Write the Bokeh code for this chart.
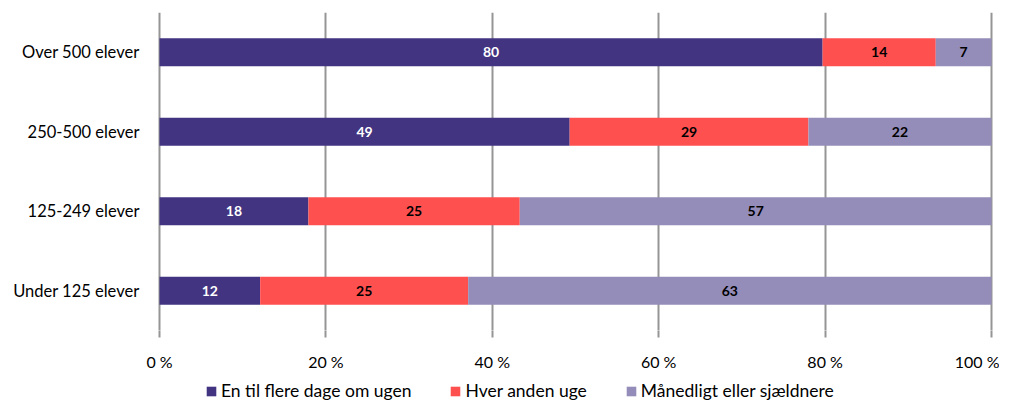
from bokeh.plotting import figure
from bokeh.models import Range1d, FixedTicker, Legend, LegendItem, ColumnDataSource
from bokeh.layouts import column
from bokeh.core.properties import value
from bokeh.embed import file_html
from bokeh.resources import INLINE

categories = ["Under 125 elever", "125-249 elever", "250-500 elever", "Over 500 elever"]
series_names = ["En til flere dage om ugen", "Hver anden uge", "Månedligt eller sjældnere"]
s1 = [12.1, 17.9, 49.3, 79.7]
s2 = [25.0, 25.4, 28.7, 13.6]
s3 = [62.9, 56.7, 22.0, 6.7]
labels1 = ["12", "18", "49", "80"]
labels2 = ["25", "25", "29", "14"]
labels3 = ["63", "57", "22", "7"]
tick_values = [0, 20, 40, 60, 80, 100]
tick_labels = ["0 %", "20 %", "40 %", "60 %", "80 %", "100 %"]

colors = ["#423480", "#FF5050", "#948CB9"]
label_colors = ["#FFFFFF", "#000000", "#000000"]
FONT = "Lato"

p = figure(frame_width=836, frame_height=318, y_range=categories, x_range=Range1d(-0.24, 100.24),
           output_backend="svg", toolbar_location=None,
           min_border_left=157, min_border_right=6, min_border_top=12, min_border_bottom=0)
p.outline_line_color = None

src = ColumnDataSource(dict(cat=categories, a=s1, b=s2, c=s3))
rends = p.hbar_stack(["a", "b", "c"], y="cat", height=0.35, color=colors, source=src,
                     line_color=None)

# value labels
stacks = [s1, s2, s3]
texts = [labels1, labels2, labels3]
left = [0.0] * len(categories)
for i in range(3):
    centers = [l + v / 2 for l, v in zip(left, stacks[i])]
    lsrc = ColumnDataSource(dict(x=centers, y=categories, t=texts[i]))
    p.text(x="x", y="y", text="t", source=lsrc, text_align="center", text_baseline="middle",
           text_font=value(FONT), text_font_style="bold", text_font_size="14px",
           text_color=label_colors[i])
    left = [l + v for l, v in zip(left, stacks[i])]

# x axis
p.xaxis.ticker = FixedTicker(ticks=tick_values)
p.xaxis.major_label_overrides = {v: t for v, t in zip(tick_values, tick_labels)}
p.xaxis.axis_line_color = None
p.xaxis.major_tick_in = 0
p.xaxis.major_tick_out = 7
p.xaxis.major_tick_line_color = "#959595"
p.xaxis.major_tick_line_width = 2
p.xaxis.minor_tick_line_color = None
p.xaxis.major_label_standoff = 14
p.xaxis.major_label_text_font = FONT
p.xaxis.major_label_text_font_size = "16px"
p.xaxis.major_label_text_color = "#000000"

p.xgrid.ticker = FixedTicker(ticks=tick_values)
p.xgrid.grid_line_color = "#959595"
p.xgrid.grid_line_width = 2
p.ygrid.grid_line_color = None

p.yaxis.axis_line_color = None
p.yaxis.major_tick_line_color = None
p.yaxis.minor_tick_line_color = None
p.yaxis.major_label_standoff = 12
p.yaxis.major_label_text_font = FONT
p.yaxis.major_label_text_font_size = "16.5px"
p.yaxis.major_label_text_color = "#000000"

# legend strip: zero-height copies of the bars, only the legend shows
pl = figure(width=999, height=32, y_range=categories, x_range=Range1d(-0.24, 100.24),
            output_backend="svg", toolbar_location=None,
            x_axis_location=None, y_axis_location=None,
            min_border_left=0, min_border_right=0, min_border_top=0, min_border_bottom=0)
pl.outline_line_color = None
pl.xgrid.grid_line_color = None
pl.ygrid.grid_line_color = None
lrends = pl.hbar_stack(["a", "b", "c"], y="cat", height=0, color=colors, source=src,
                       line_color=None)

legend = Legend(items=[LegendItem(label=n, renderers=[r]) for n, r in zip(series_names, lrends)],
                orientation="horizontal", location=(48, 4), border_line_color=None,
                background_fill_alpha=0,
                label_text_font=FONT, label_text_font_size="17.5px", label_text_color="#000000",
                glyph_width=12, glyph_height=12, label_standoff=4, spacing=38,
                padding=2, margin=0, label_height=16)
pl.add_layout(legend)

layout = column(p, pl, spacing=0)
open("out.html", "w").write(file_html(layout, INLINE))
